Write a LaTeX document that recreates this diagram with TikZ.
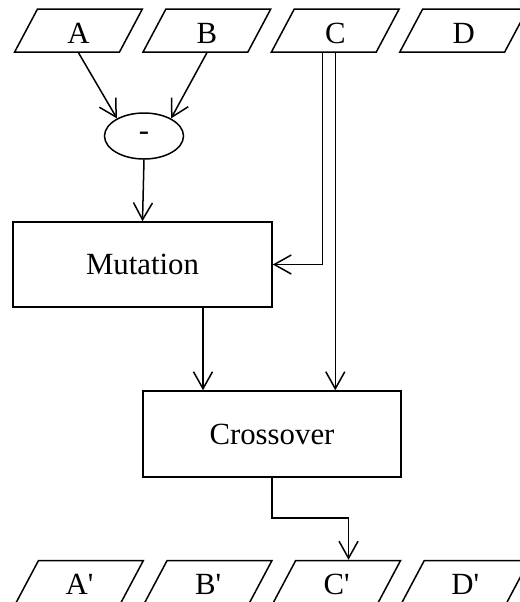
\documentclass[tikz,border=0pt]{standalone}
\usepackage{fontspec}
\setmainfont{Liberation Serif}[Ligatures=TeXOff]
\usetikzlibrary{shapes.geometric,arrows.meta,calc}
\tikzset{
  para/.style={trapezium,draw,trapezium left angle=62,trapezium right angle=118,
    inner sep=0pt,text width=41pt,align=center,text height=17pt,text depth=4.5pt},
  box/.style={draw,rectangle,inner sep=0pt,minimum width=129.5pt,minimum height=42.5pt},
  arr/.style={-{Straight Barb[length=8.5pt,width=9.5pt]}}
}
\begin{document}
\begin{tikzpicture}[x=0.5pt,y=-0.5pt,line width=0.75pt,font=\fontsize{15.4}{18}\selectfont]
    \useasboundingbox (0,0) rectangle (520,602);
    \clip (0,0) rectangle (520,602);
    \foreach \n/\i in {A/0,B/1,C/2,D/3}{
      \node[para] (\n) at (78.5+128.4*\i,30.5) {\n};
      \node[para] (\n2) at (79.5+128.6*\i,582) {\n'};
    }
    \node[ellipse,draw,minimum width=39.5pt,minimum height=23pt,inner sep=0pt] (minus) at (144,136) {-};
    \node[box] (Mutation) at (142.5,264.5) {Mutation};
    \node[box,minimum width=129pt,minimum height=43pt] (Crossover) at (272,434) {Crossover};
    \draw[arr] (A.center |- A.bottom side) -- (minus.147);
    \draw[arr] (B.center |- B.bottom side) -- (minus.33);
    \draw[arr] (minus.south) -- (Mutation.north);
    \draw[arr] ($(C.center |- C.bottom side)+(-13,0)$) |- (Mutation.east);
    \draw[arr] (C.center |- C.bottom side) -- (C.center |- Crossover.north);
    \coordinate (m) at ($(Mutation.south)+(60.5,0)$);
    \draw[arr] (m) -- (m |- Crossover.north);
    \draw[arr] (Crossover.south) -- ++(0,40) -| (C2.top side); % to C'
\end{tikzpicture}
\end{document}
